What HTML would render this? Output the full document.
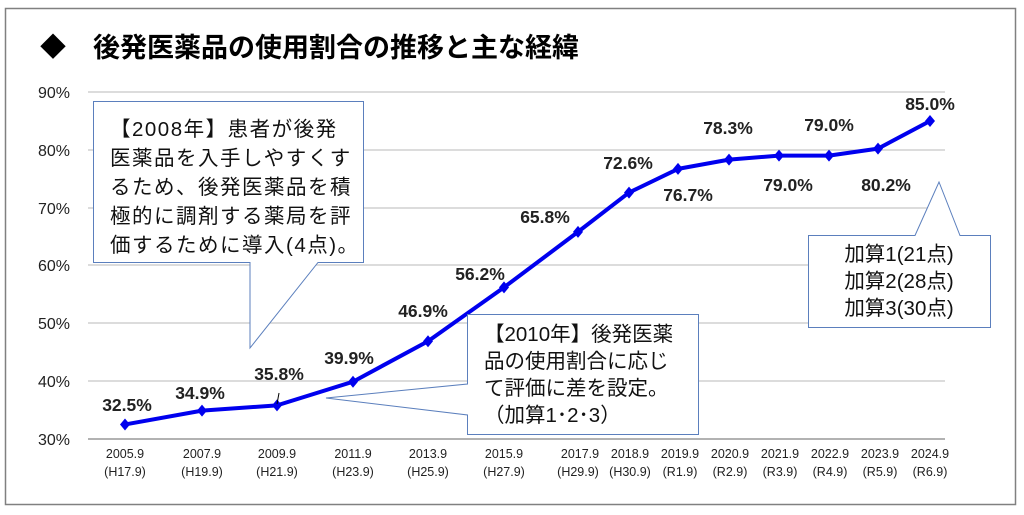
<!DOCTYPE html>
<html><head><meta charset="utf-8">
<style>
html,body{margin:0;padding:0;background:#fff;}
svg{display:block;}
text{font-family:"Liberation Sans","Noto Sans CJK JP",sans-serif;}
</style></head><body>
<svg width="1024" height="515" viewBox="0 0 1024 515" xmlns="http://www.w3.org/2000/svg">
<rect x="5.5" y="8.5" width="1010" height="496" fill="#fff" stroke="#808080" stroke-width="1.5"/>
<text x="40" y="56" font-size="26" font-weight="bold" fill="#000">◆</text>
<text x="93" y="57" font-size="27" font-weight="bold" fill="#000">後発医薬品の使用割合の推移と主な経緯</text>
<g stroke="#c8c8c8" stroke-width="1.2">
<line x1="88" y1="92" x2="945" y2="92"/>
<line x1="88" y1="150" x2="945" y2="150"/>
<line x1="88" y1="208" x2="945" y2="208"/>
<line x1="88" y1="265" x2="945" y2="265"/>
<line x1="88" y1="323" x2="945" y2="323"/>
<line x1="88" y1="381" x2="945" y2="381"/>
</g>
<line x1="88" y1="439" x2="945" y2="439" stroke="#999" stroke-width="1.5"/>
<g font-size="16" fill="#222" text-anchor="end">
<text x="70" y="98">90%</text><text x="70" y="156">80%</text><text x="70" y="214">70%</text>
<text x="70" y="271">60%</text><text x="70" y="329">50%</text><text x="70" y="387">40%</text>
<text x="70" y="445">30%</text>
</g>
<g font-size="12.5" fill="#222" text-anchor="middle">
<text x="125" y="458">2005.9</text><text x="125" y="476">(H17.9)</text>
<text x="202" y="458">2007.9</text><text x="202" y="476">(H19.9)</text>
<text x="277" y="458">2009.9</text><text x="277" y="476">(H21.9)</text>
<text x="353" y="458">2011.9</text><text x="353" y="476">(H23.9)</text>
<text x="428" y="458">2013.9</text><text x="428" y="476">(H25.9)</text>
<text x="504" y="458">2015.9</text><text x="504" y="476">(H27.9)</text>
<text x="580" y="458">2017.9</text><text x="578" y="476">(H29.9)</text>
<text x="630" y="458">2018.9</text><text x="630" y="476">(H30.9)</text>
<text x="680" y="458">2019.9</text><text x="680" y="476">(R1.9)</text>
<text x="730" y="458">2020.9</text><text x="730" y="476">(R2.9)</text>
<text x="780" y="458">2021.9</text><text x="780" y="476">(R3.9)</text>
<text x="830" y="458">2022.9</text><text x="830" y="476">(R4.9)</text>
<text x="880" y="458">2023.9</text><text x="880" y="476">(R5.9)</text>
<text x="930" y="458">2024.9</text><text x="930" y="476">(R6.9)</text>
</g>
<polyline fill="none" stroke="#0000ee" stroke-width="4" stroke-linejoin="round"
points="125,424.5 202,410.6 277,405.4 353,381.7 428,341.2 504,287.4 578,231.9 629,192.6 678,168.9 729,159.6 779,155.6 829,155.6 878,148.6 930,121"/>
<g fill="#0000ee">
<path d="M125 418.5 l5 6 -5 6 -5 -6z"/><path d="M202 404.6 l5 6 -5 6 -5 -6z"/>
<path d="M277 399.4 l5 6 -5 6 -5 -6z"/><path d="M353 375.7 l5 6 -5 6 -5 -6z"/>
<path d="M428 335.2 l5 6 -5 6 -5 -6z"/><path d="M504 281.4 l5 6 -5 6 -5 -6z"/>
<path d="M578 225.9 l5 6 -5 6 -5 -6z"/><path d="M629 186.6 l5 6 -5 6 -5 -6z"/>
<path d="M678 162.9 l5 6 -5 6 -5 -6z"/><path d="M729 153.6 l5 6 -5 6 -5 -6z"/>
<path d="M779 149.6 l5 6 -5 6 -5 -6z"/><path d="M829 149.6 l5 6 -5 6 -5 -6z"/>
<path d="M878 142.6 l5 6 -5 6 -5 -6z"/><path d="M930 115 l5 6 -5 6 -5 -6z"/>
</g>
<line x1="279" y1="393" x2="277" y2="404" stroke="#000" stroke-width="1"/>
<g font-size="17.5" font-weight="bold" fill="#222" text-anchor="middle">
<text x="127" y="411">32.5%</text>
<text x="200" y="399">34.9%</text>
<text x="279" y="380">35.8%</text>
<text x="349" y="364">39.9%</text>
<text x="423" y="317">46.9%</text>
<text x="480" y="280">56.2%</text>
<text x="545" y="223">65.8%</text>
<text x="628" y="169">72.6%</text>
<text x="688" y="201">76.7%</text>
<text x="728" y="134">78.3%</text>
<text x="788" y="191">79.0%</text>
<text x="829" y="131">79.0%</text>
<text x="886" y="191">80.2%</text>
<text x="930" y="110">85.0%</text>
</g>
<path d="M93.5 101.5 H363.5 V262.5 H318 L250 348 L250 262.5 H93.5 Z" fill="#fff" stroke="#5b7fbd" stroke-width="1"/>
<g font-size="20.5" fill="#111" letter-spacing="1.5">
<text x="110" y="136">【2008年】患者が後発</text>
<text x="110" y="165">医薬品を入手しやすくす</text>
<text x="110" y="194">るため、後発医薬品を積</text>
<text x="110" y="223">極的に調剤する薬局を評</text>
<text x="110" y="252">価するために導入(4点)。</text>
</g>
<path d="M467.5 314.5 H698.5 V434.5 H467.5 V415 L326 398 L467.5 384 Z" fill="#fff" stroke="#5b7fbd" stroke-width="1"/>
<g font-size="20.5" fill="#111">
<text x="484" y="341">【2010年】後発医薬</text>
<text x="484" y="368">品の使用割合に応じ</text>
<text x="484" y="395">て評価に差を設定。</text>
<text x="484" y="422">（加算1･2･3）</text>
</g>
<path d="M808.5 235.5 H915 L939 182 L960 235.5 H990.5 V327.5 H808.5 Z" fill="#fff" stroke="#5b7fbd" stroke-width="1"/>
<g font-size="20.5" fill="#111" text-anchor="middle">
<text x="899" y="261">加算1(21点)</text>
<text x="899" y="288">加算2(28点)</text>
<text x="899" y="315">加算3(30点)</text>
</g>
</svg>
</body></html>
